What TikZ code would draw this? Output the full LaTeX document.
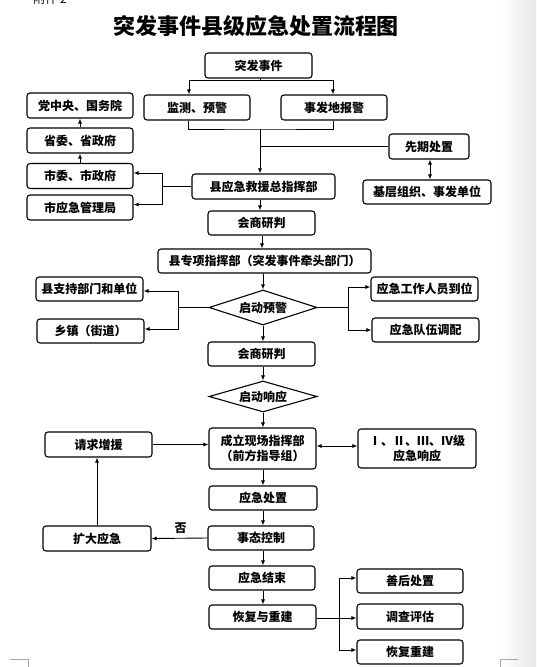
\documentclass[tikz,border=0pt]{standalone}
\usepackage{fontspec}
\setmainfont{Noto Sans CJK SC}
\usetikzlibrary{arrows.meta,shapes.geometric,calc}
\begin{document}
\begin{tikzpicture}[x=1pt,y=-1pt,
  box/.style={draw, rounded corners=3pt, line width=1.1pt, inner sep=0pt, align=center,
    font=\bfseries\fontsize{12}{15}\selectfont},
  dia/.style={draw, diamond, aspect=2.9, line width=1.1pt, inner sep=0pt,
    minimum width=108pt, minimum height=35pt, font=\bfseries\fontsize{12}{15}\selectfont},
  ln/.style={line width=0.9pt},
  arr/.style={ln, -{Latex[length=5pt,width=4pt]}},
  arrb/.style={ln, {Latex[length=5pt,width=4pt]}-{Latex[length=5pt,width=4pt]}},
  cropmark/.style={draw=black!35, line width=0.6pt}]
\useasboundingbox (0,0) rectangle (536,667);
\shade[left color=white, right color=black!9] (500,0) rectangle (536,667);
% header
\node[font=\fontsize{12}{14}\selectfont] (fj) at (50,-1) {附件 2};
\node[font=\bfseries\fontsize{22}{26}\selectfont] (title) at (256,26) {突发事件县级应急处置流程图};
% top section
\node[box, minimum width=107pt, minimum height=25pt] (tf) at (258.5,65.5) {突发事件};
\node[box, minimum width=106pt, minimum height=25pt] (jc) at (197,107.5) {监测、预警};
\node[box, minimum width=106pt, minimum height=25pt] (sf) at (334,107.5) {事发地报警};
\node[box, minimum width=106pt, minimum height=25pt] (dz) at (80,105.5) {党中央、国务院};
\node[box, minimum width=106pt, minimum height=25pt] (sw) at (80,140.5) {省委、省政府};
\node[box, minimum width=106pt, minimum height=25pt] (shw) at (80,176) {市委、市政府};
\node[box, minimum width=106pt, minimum height=25pt] (sy) at (80,207.5) {市应急管理局};
\node[box, minimum width=143pt, minimum height=25pt] (zh) at (263.5,186.5) {县应急救援总指挥部};
\node[box, minimum width=80pt, minimum height=25pt] (xq) at (429,146.5) {先期处置};
\node[box, minimum width=128pt, minimum height=24pt] (jz) at (427,192) {基层组织、事发单位};
\node[box, minimum width=107pt, minimum height=24pt] (hs1) at (261.5,223) {会商研判};
% middle
\node[box, minimum width=213pt, minimum height=24pt] (zx) at (264.5,261) {县专项指挥部（突发事件牵头部门）};
\node[dia] (d1) at (263,307.5) {启动预警};
\node[box, minimum width=107pt, minimum height=24pt] (zc) at (89.5,289) {县支持部门和单位};
\node[box, minimum width=107pt, minimum height=24pt] (xz) at (90.5,331) {乡镇（街道）};
\node[box, minimum width=107pt, minimum height=24pt] (yg) at (424.5,289) {应急工作人员到位};
\node[box, minimum width=107pt, minimum height=24pt] (dp) at (425.5,330) {应急队伍调配};
\node[box, minimum width=107pt, minimum height=24pt] (hs2) at (261.5,354) {会商研判};
\node[dia, minimum height=31pt] (d2) at (263,396.5) {启动响应};
\node[box, minimum width=107pt, minimum height=41pt] (cl) at (262.5,448.5) {成立现场指挥部\\（前方指导组）};
\node[box, minimum width=107pt, minimum height=25pt] (qz) at (98.5,444.5) {请求增援};
\node[box, minimum width=118pt, minimum height=39pt] (xy) at (417,448.5) {Ⅰ、Ⅱ、Ⅲ、Ⅳ级\\应急响应};
% bottom
\node[box, minimum width=108pt, minimum height=24pt] (cz) at (263,498) {应急处置};
\node[box, minimum width=106pt, minimum height=24pt] (stk) at (261,538) {事态控制};
\node[box, minimum width=108pt, minimum height=25pt] (kd) at (97,538.5) {扩大应急};
\node[box, minimum width=106pt, minimum height=24pt] (js) at (262,578) {应急结束};
\node[box, minimum width=107pt, minimum height=24pt] (hf) at (262.5,617) {恢复与重建};
\node[box, minimum width=106pt, minimum height=24pt] (sh) at (410,581) {善后处置};
\node[box, minimum width=106pt, minimum height=25pt] (dc) at (410,616.5) {调查评估};
\node[box, minimum width=106pt, minimum height=24pt] (hj) at (410,652) {恢复重建};
% connectors top
\coordinate (j1) at (260,80);
\draw[ln] (tf.south -| j1) -- (j1);
\draw[arr] (j1) -| ([xshift=-8pt]jc.north);
\draw[arr] (j1) -| ([xshift=-1pt]sf.north);
\coordinate (j2) at (260,129);
\draw[ln] ([xshift=-9pt]jc.south) |- (j2) -| ([xshift=-1pt]sf.south);
\draw[arr] (j2) -- (j2 |- zh.north);
\draw[ln] (j2 |- xq.west) -- (xq.west);
\draw[arrb] ([xshift=1pt]xq.south) -- ([xshift=1pt]xq.south |- jz.north);
\draw[arr] (sw.north) -- (dz.south);
\draw[arr] (shw.north) -- (sw.south);
\coordinate (k1) at (162,186.5);
\draw[ln] (zh.west) -- (k1);
\draw[arr] (k1) |- ([yshift=3pt]shw.east);
\draw[arr] (k1) |- ([yshift=3pt]sy.east);
\draw[arr] (zh.south -| j1) -- (hs1.north -| j1);
% middle connectors
\draw[arr] ([xshift=0.5pt]hs1.south) -- ([xshift=0.5pt]hs1.south |- zx.north);
\draw[arr] (zx.south -| d1.north) -- (d1.north);
\coordinate (k2) at (178,307.5);
\draw[ln] (d1.west) -- (k2);
\draw[arr] (k2) |- ([yshift=-2pt]zc.east);
\draw[arr] (k2) |- ([yshift=2pt]xz.east);
\coordinate (k3) at (348,307.5);
\draw[ln] (d1.east) -- (k3);
\draw[arr] (k3) |- ([yshift=2pt]yg.west);
\draw[arr] (k3) |- (dp.west);
\draw[arr] (d1.south) -- (hs2.north -| d1.south);
\draw[arr] (hs2.south -| d2.north) -- (d2.north);
\draw[arr] (d2.south) -- (cl.north -| d2.south);
\draw[arr] (qz.east) -- (qz.east -| cl.west);
\draw[arrb] ([yshift=2.5pt]cl.east) -- ([yshift=2.5pt]cl.east -| xy.west);
% bottom connectors
\draw[arr] (cl.south -| cz.north) -- (cz.north);
\draw[arr] (cz.south) -- (stk.north -| cz.south);
\draw[arr] (stk.west) -- (kd.east) node[pos=0.48, above=1pt, font=\bfseries\fontsize{12}{14}\selectfont] (fou) {否};
\draw[arr] (kd.north) -- (qz.south -| kd.north);
\draw[arr] (stk.south -| cz.south) -- (js.north -| cz.south);
\draw[arr] (js.south -| cz.south) -- (hf.north -| cz.south);
\coordinate (k4) at (339,618);
\draw[arr] (hf.east |- k4) -- (dc.west |- k4);
\draw[arr] (k4) |- ([yshift=3pt]sh.west);
\draw[arr] (k4) |- ([yshift=2pt]hj.west);
% crop marks
\draw[cropmark] (10,659) -- (28,659) -- (28,667);
\draw[cropmark] (518,659) -- (500,659) -- (500,667);
\end{tikzpicture}
\end{document}
